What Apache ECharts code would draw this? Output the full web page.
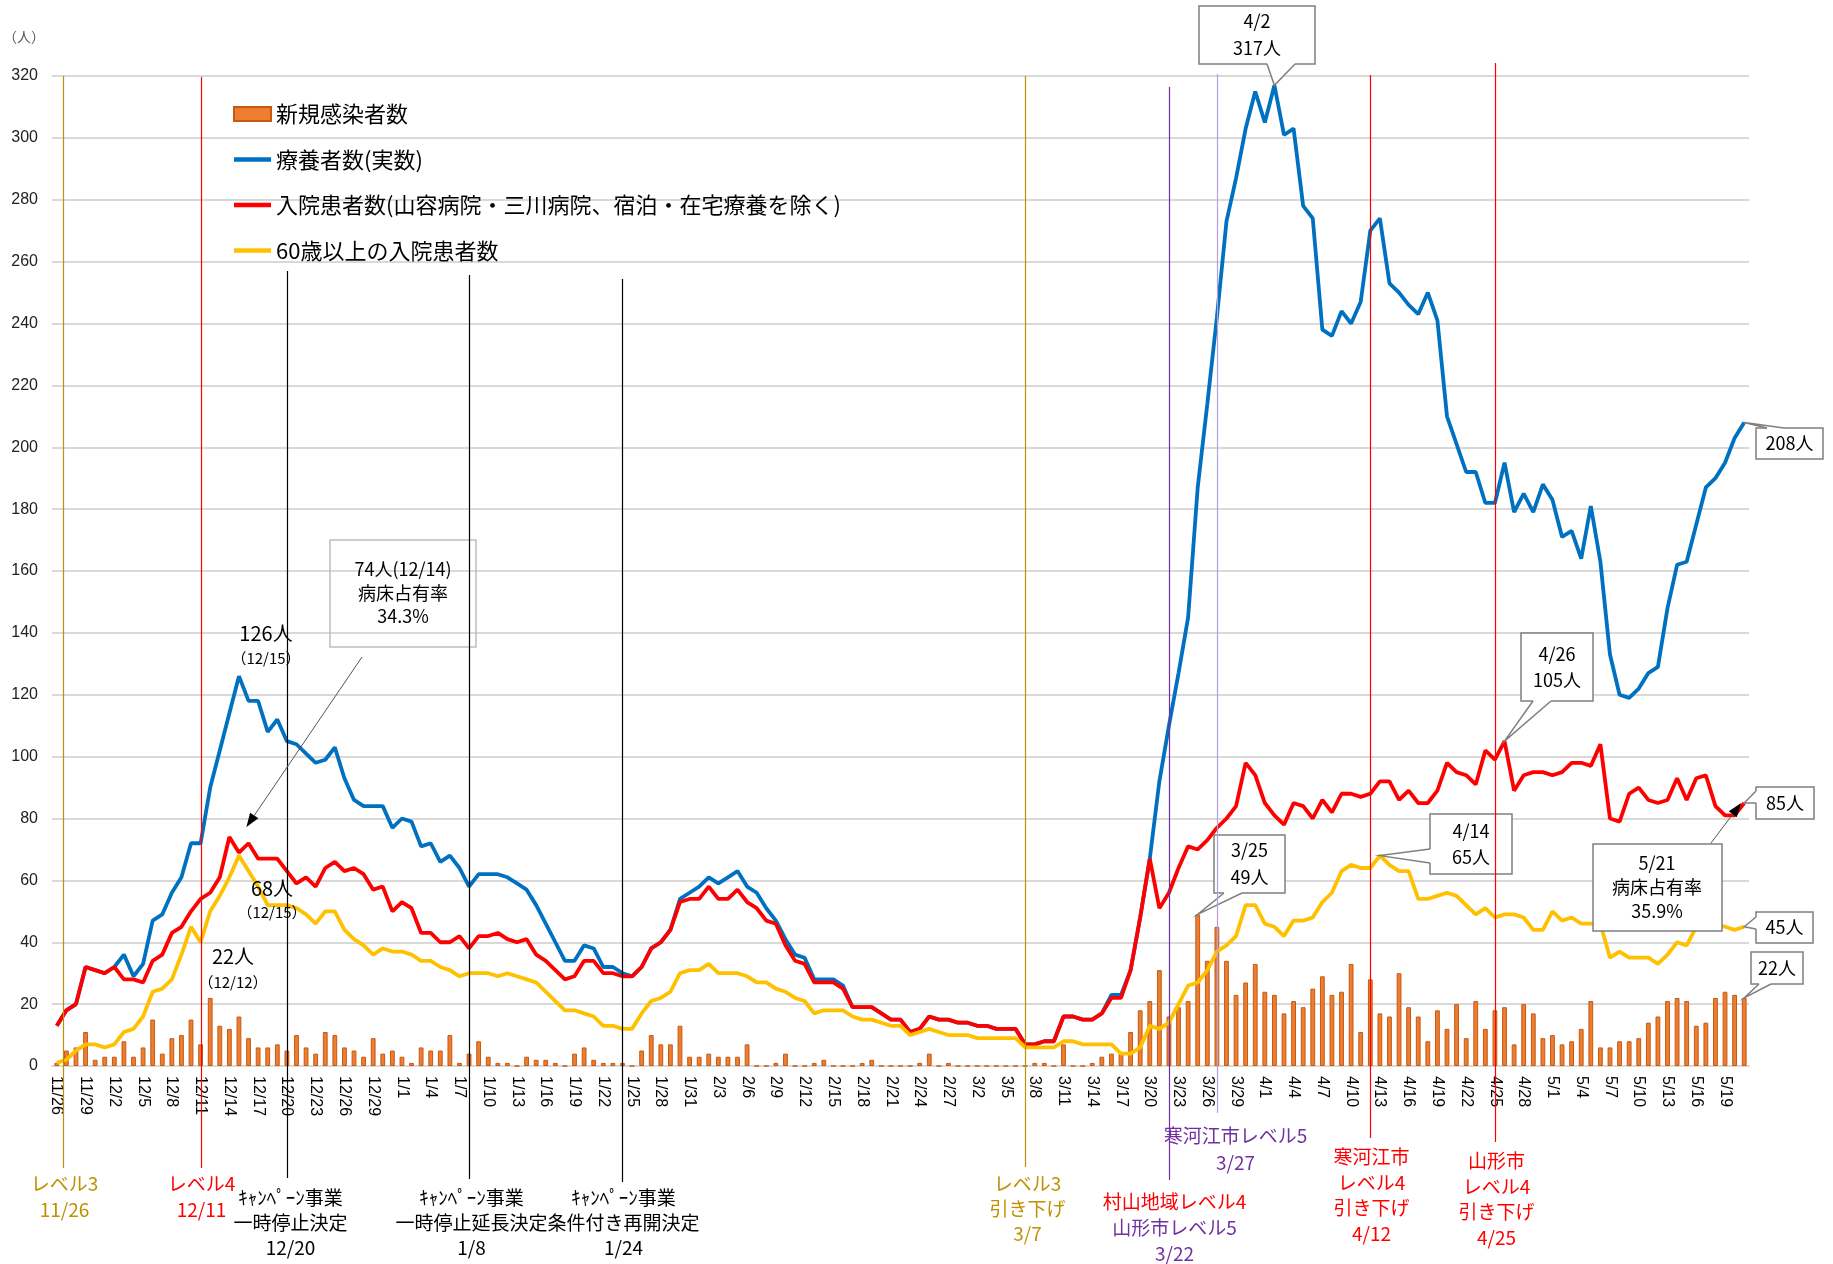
<!DOCTYPE html>
<html lang="ja">
<head>
<meta charset="utf-8">
<title>療養者数・入院患者数の推移</title>
<script src="https://cdn.jsdelivr.net/npm/echarts@6/dist/echarts.min.js"></script>
<style>
  html, body { margin: 0; padding: 0; background: #fff; }
  #chart { width: 1833px; height: 1264px; }
</style>
</head>
<body>
<div id="chart"></div>
<script>
// ---- data ----
const dates = [
  '11/26','11/27','11/28','11/29','11/30',
  '12/1','12/2','12/3','12/4','12/5','12/6','12/7','12/8','12/9','12/10','12/11','12/12','12/13','12/14','12/15','12/16',
  '12/17','12/18','12/19','12/20','12/21','12/22','12/23','12/24','12/25','12/26','12/27','12/28','12/29','12/30','12/31',
  '1/1','1/2','1/3','1/4','1/5','1/6','1/7','1/8','1/9','1/10','1/11','1/12','1/13','1/14','1/15','1/16',
  '1/17','1/18','1/19','1/20','1/21','1/22','1/23','1/24','1/25','1/26','1/27','1/28','1/29','1/30','1/31',
  '2/1','2/2','2/3','2/4','2/5','2/6','2/7','2/8','2/9','2/10','2/11','2/12','2/13','2/14',
  '2/15','2/16','2/17','2/18','2/19','2/20','2/21','2/22','2/23','2/24','2/25','2/26','2/27','2/28',
  '3/1','3/2','3/3','3/4','3/5','3/6','3/7','3/8','3/9','3/10','3/11','3/12','3/13','3/14','3/15','3/16',
  '3/17','3/18','3/19','3/20','3/21','3/22','3/23','3/24','3/25','3/26','3/27','3/28','3/29','3/30','3/31',
  '4/1','4/2','4/3','4/4','4/5','4/6','4/7','4/8','4/9','4/10','4/11','4/12','4/13','4/14','4/15',
  '4/16','4/17','4/18','4/19','4/20','4/21','4/22','4/23','4/24','4/25','4/26','4/27','4/28','4/29','4/30',
  '5/1','5/2','5/3','5/4','5/5','5/6','5/7','5/8','5/9','5/10','5/11','5/12','5/13','5/14','5/15','5/16',
  '5/17','5/18','5/19','5/20','5/21'
];

const newCases = [
  1,5,6,11,2,3,3,8,3,6,
  15,4,9,10,15,7,22,13,12,16,
  9,6,6,7,5,10,6,4,11,10,
  6,5,3,9,4,5,3,1,6,5,
  5,10,1,4,8,3,1,1,0,3,
  2,2,1,0,4,6,2,1,1,1,
  0,5,10,7,7,13,3,3,4,3,
  3,3,7,0,0,1,4,0,0,1,
  2,0,0,0,1,2,0,0,0,0,
  1,4,0,1,0,0,0,0,0,0,
  0,0,1,1,0,7,0,0,1,3,
  4,4,11,18,21,31,16,19,21,49,
  34,45,34,23,27,33,24,23,17,21,
  19,25,29,23,24,33,11,28,17,16,
  30,19,16,8,18,12,20,9,21,12,
  18,19,7,20,17,9,10,7,8,12,
  21,6,6,8,8,9,14,16,21,22,
  21,13,14,22,24,23,22
];

const patients = [
  13,18,20,32,31,30,32,36,29,33,
  47,49,56,61,72,72,90,102,114,126,
  118,118,108,112,105,104,101,98,99,103,
  93,86,84,84,84,77,80,79,71,72,
  66,68,64,58,62,62,62,61,59,57,
  52,46,40,34,34,39,38,32,32,30,
  29,32,38,40,44,54,56,58,61,59,
  61,63,58,56,51,47,41,36,35,28,
  28,28,26,19,19,19,17,15,15,11,
  12,16,15,15,14,14,13,13,12,12,
  12,7,7,8,8,16,16,15,15,17,
  23,23,31,48,67,92,110,127,145,187,
  214,242,273,287,303,315,305,317,301,303,
  278,274,238,236,244,240,247,270,274,253,
  250,246,243,250,241,210,201,192,192,182,
  182,195,179,185,179,188,183,171,173,164,
  181,163,133,120,119,122,127,129,148,162,
  163,175,187,190,195,203,208
];

const inpatients = [
  13,18,20,32,31,30,32,28,28,27,
  34,36,43,45,50,54,56,61,74,69,
  72,67,67,67,63,59,61,58,64,66,
  63,64,62,57,58,50,53,51,43,43,
  40,40,42,38,42,42,43,41,40,41,
  36,34,31,28,29,34,34,30,30,29,
  29,32,38,40,44,53,54,54,58,54,
  54,57,53,51,47,46,39,34,33,27,
  27,27,25,19,19,19,17,15,15,11,
  12,16,15,15,14,14,13,13,12,12,
  12,7,7,8,8,16,16,15,15,17,
  22,22,31,48,67,51,56,64,71,70,
  73,77,80,84,98,94,85,81,78,85,
  84,80,86,82,88,88,87,88,92,92,
  86,89,85,85,89,98,95,94,91,102,
  99,105,89,94,95,95,94,95,98,98,
  97,104,80,79,88,90,86,85,86,93,
  86,93,94,84,81,81,85
];

const elderly = [
  1,2,5,7,7,6,7,11,12,16,
  24,25,28,36,45,40,50,55,61,68,
  63,58,52,52,52,51,49,46,50,50,
  44,41,39,36,38,37,37,36,34,34,
  32,31,29,30,30,30,29,30,29,28,
  27,24,21,18,18,17,16,13,13,12,
  12,17,21,22,24,30,31,31,33,30,
  30,30,29,27,27,25,24,22,21,17,
  18,18,18,16,15,15,14,13,13,10,
  11,12,11,10,10,10,9,9,9,9,
  9,6,6,6,6,8,8,7,7,7,
  7,4,4,6,13,12,14,20,26,27,
  31,37,39,42,52,52,46,45,42,47,
  47,48,53,56,63,65,64,64,68,65,
  63,63,54,54,55,56,55,52,49,51,
  48,49,49,48,44,44,50,47,48,46,
  46,46,35,37,35,35,35,33,36,40,
  39,45,48,46,45,44,45
];

const seriesNames = [
  '新規感染者数',
  '療養者数(実数)',
  '入院患者数(山容病院・三川病院、宿泊・在宅療養を除く)',
  '60歳以上の入院患者数'
];

// events drawn as vertical lines with captions under the axis
const eventDates = ['11/26', '12/11', '12/20', '1/8', '1/24', '3/7', '3/22', '3/27', '4/12', '4/25'];
const eventTexts = [
  ['レベル3', '11/26'],
  ['レベル4', '12/11'],
  ['ｷｬﾝﾍﾟｰﾝ事業', '一時停止決定', '12/20'],
  ['ｷｬﾝﾍﾟｰﾝ事業', '一時停止延長決定', '1/8'],
  ['ｷｬﾝﾍﾟｰﾝ事業', '条件付き再開決定', '1/24'],
  ['レベル3', '引き下げ', '3/7'],
  ['村山地域レベル4', '山形市レベル5', '3/22'],
  ['寒河江市レベル5', '3/27'],
  ['寒河江市', 'レベル4', '引き下げ', '4/12'],
  ['山形市', 'レベル4', '引き下げ', '4/25']
];

// ---- styles / layout ----
const GOLD = '#BF9000', RED = '#FF0000', PURPLE = '#7030A0', LILAC = '#B79FDB', BLACK = '#000000';
const FONT = '"Noto Sans CJK JP", "Noto Sans", sans-serif';
const LINE_ICON = 'path://M0,0H37V4.5H0Z';

const eventLineColor = [GOLD, RED, BLACK, BLACK, BLACK, GOLD, PURPLE, LILAC, RED, RED];
const eventTextColor = [
  [GOLD, GOLD], [RED, RED], [BLACK, BLACK, BLACK], [BLACK, BLACK, BLACK], [BLACK, BLACK, BLACK],
  [GOLD, GOLD, GOLD], [RED, PURPLE, PURPLE], [PURPLE, PURPLE], [RED, RED, RED, RED], [RED, RED, RED, RED]
];
const eventLineTop = [76, 77, 271, 275, 279, 76, 87, 74, 75, 63];
const eventLineBottom = [1168, 1168, 1178, 1179, 1182, 1167, 1180, 1113, 1138, 1142];
const eventLineShift = [6, 0, 0, 0, 0, 0, 0, 0, 0, 0];
const eventTextShift = [1, 0, 3, 2, 1, 2, 5, 18, 1, 1];
const eventTextTop = [1184, 1184, 1198, 1198, 1198, 1184, 1202, 1136, 1157, 1161];
const eventTextStep = [26, 26, 25, 25, 25, 25, 26, 27, 25.5, 25.5];

const chart = echarts.init(document.getElementById('chart'));

chart.setOption({
  animation: false,
  backgroundColor: '#fff',
  textStyle: { fontFamily: FONT },
  grid: { left: 52, right: 84, top: 76, bottom: 198 },
  legend: {
    orient: 'vertical',
    left: 228, top: 97,
    itemWidth: 37, itemHeight: 14, itemGap: 21.5,
    symbolKeepAspect: true,
    textStyle: { fontSize: 22, lineHeight: 24, color: '#000', fontFamily: FONT },
    data: [
      { name: seriesNames[0], icon: 'rect' },
      { name: seriesNames[1], icon: LINE_ICON },
      { name: seriesNames[2], icon: LINE_ICON },
      { name: seriesNames[3], icon: LINE_ICON }
    ]
  },
  xAxis: {
    type: 'category',
    data: dates,
    boundaryGap: true,
    axisLine: { lineStyle: { color: '#D9D9D9', width: 2 } },
    axisTick: { show: false },
    axisLabel: {
      interval: 2, rotate: -90, margin: 10,
      color: '#000', fontSize: 16, fontFamily: '"Liberation Sans", Arial, sans-serif'
    },
    splitLine: { show: false }
  },
  yAxis: {
    type: 'value', min: 0, max: 320, interval: 20,
    axisLine: { show: false }, axisTick: { show: false },
    axisLabel: { color: '#222', fontSize: 16, margin: 14, fontFamily: '"Liberation Sans", Arial, sans-serif' },
    splitLine: { lineStyle: { color: '#D9D9D9', width: 2 } }
  },
  series: [
    {
      name: seriesNames[0], type: 'bar', data: newCases, barWidth: '50%',
      itemStyle: { color: '#ED7D31', borderColor: '#C55A11', borderWidth: 1 }
    },
    {
      name: seriesNames[1], type: 'line', data: patients, symbol: 'none',
      lineStyle: { color: '#0070C0', width: 3.8 }, itemStyle: { color: '#0070C0' }
    },
    {
      name: seriesNames[2], type: 'line', data: inpatients, symbol: 'none',
      lineStyle: { color: '#FF0000', width: 3.8 }, itemStyle: { color: '#FF0000' }
    },
    {
      name: seriesNames[3], type: 'line', data: elderly, symbol: 'none',
      lineStyle: { color: '#FFC000', width: 3.8 }, itemStyle: { color: '#FFC000' }
    }
  ]
});

// ---- annotations, anchored to the chart's own scales ----
const px = (i, v) => chart.convertToPixel({ gridIndex: 0 }, [i, v]);
const idx = d => dates.indexOf(d);
const g = [];

function text(x, y, str, size, color, lh, z) {
  g.push({
    type: 'text', z: z || 30, x, y,
    style: {
      text: str, fill: color || '#000', font: size + 'px ' + FONT,
      align: 'center', verticalAlign: 'middle', lineHeight: lh || size + 6
    }
  });
}

function arrow(from, to, color, w) {
  const dx = to[0] - from[0], dy = to[1] - from[1];
  const len = Math.hypot(dx, dy), ux = dx / len, uy = dy / len;
  const L = 14, W = 5;
  const bx = to[0] - ux * L, by = to[1] - uy * L;
  g.push({ type: 'line', z: 25, shape: { x1: from[0], y1: from[1], x2: bx, y2: by }, style: { stroke: '#555', lineWidth: w } });
  g.push({ type: 'polygon', z: 25, shape: { points: [to, [bx - uy * W, by + ux * W], [bx + uy * W, by - ux * W]] }, style: { fill: color } });
}

function callout(box, str, base, tip, lh) {
  g.push({ type: 'polygon', z: 9, shape: { points: [base[0], tip, base[1]] }, style: { fill: '#fff' } });
  g.push({ type: 'rect', z: 10, shape: { x: box[0], y: box[1], width: box[2], height: box[3] }, style: { fill: '#fff', stroke: '#7F7F7F', lineWidth: 1.5 } });
  g.push({ type: 'line', z: 11, shape: { x1: base[0][0], y1: base[0][1], x2: base[1][0], y2: base[1][1] }, style: { stroke: '#fff', lineWidth: 2.5 } });
  g.push({ type: 'polyline', z: 11, shape: { points: [base[0], tip, base[1]] }, style: { stroke: '#7F7F7F', lineWidth: 1.5, fill: null } });
  text(box[0] + box[2] / 2, box[1] + box[3] / 2, str, 18, '#000', lh, 12);
}

// event lines and captions
eventDates.forEach((d, k) => {
  const x = Math.round(px(idx(d), 0)[0]) + eventLineShift[k] + 0.5;
  g.push({
    type: 'line', z: 20,
    shape: { x1: x, y1: eventLineTop[k], x2: x, y2: eventLineBottom[k] },
    style: { stroke: eventLineColor[k], lineWidth: 1.2 }
  });
  eventTexts[k].forEach((t, j) => {
    text(x + eventTextShift[k], eventTextTop[k] + j * eventTextStep[k], t, 19, eventTextColor[k][j]);
  });
});

// callout boxes
const last = dates.length - 1;
callout([1199, 6, 116, 58], '4/2\n317人', [[1267, 64], [1295, 64]], px(idx('4/2'), patients[idx('4/2')]), 27);
callout([1756, 428, 67, 31], '208人', [[1767, 428], [1784, 428]], px(last, patients[last]), 22);
callout([1521, 633, 72, 68], '4/26\n105人', [[1533, 701], [1551, 701]], px(idx('4/26'), inpatients[idx('4/26')]), 26);
callout([1214, 835, 71, 58], '3/25\n49人', [[1224, 893], [1242, 893]], px(idx('3/25'), newCases[idx('3/25')]), 27);
callout([1430, 814, 82, 60], '4/14\n65人', [[1430, 849], [1430, 863]], px(idx('4/13'), elderly[idx('4/13')]), 26);
callout([1756, 787, 58, 32], '85人', [[1756, 791], [1756, 803]], px(last, inpatients[last]), 22);
callout([1756, 912, 57, 31], '45人', [[1756, 917], [1756, 929]], px(last, elderly[last]), 22);
callout([1751, 952, 52, 32], '22人', [[1759, 984], [1771, 984]], px(last, newCases[last]), 22);

// 5/21 bed occupancy box with arrow
g.push({ type: 'rect', z: 10, shape: { x: 1593, y: 844, width: 129, height: 87 }, style: { fill: '#fff', stroke: '#7F7F7F', lineWidth: 1.5 } });
text(1657, 887, '5/21\n病床占有率\n35.9%', 18, '#000', 24, 12);
const tip521 = px(last, inpatients[last]);
arrow([1711, 843], [tip521[0] - 3, tip521[1]], '#000', 1);

// 12/14 bed occupancy box (outline only) with arrow
g.push({ type: 'rect', z: 10, shape: { x: 330, y: 540, width: 146, height: 107 }, style: { fill: null, stroke: '#BFBFBF', lineWidth: 1.5 } });
text(403, 593, '74人(12/14)\n病床占有率\n34.3%', 18, '#000', 23.5, 12);
const tip1214 = px(idx('12/14'), inpatients[idx('12/14')]);
arrow([362, 657], [tip1214[0] + 17, tip1214[1] - 10], '#000', 1);

// peak labels
text(266, 633, '126人', 20);
text(266, 658, '（12/15）', 15);
text(272, 888, '68人', 20);
text(272, 912, '（12/15）', 15);
text(233, 956, '22人', 20);
text(233, 982, '（12/12）', 15);

// unit
text(24, 37, '（人）', 14, '#595959');

chart.setOption({ graphic: g });
</script>
</body>
</html>
